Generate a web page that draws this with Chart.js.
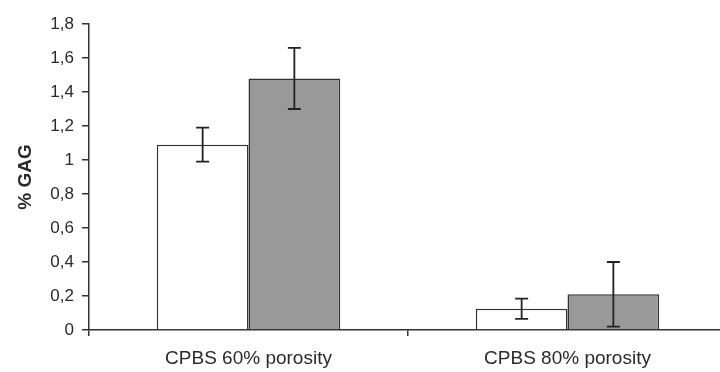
<!DOCTYPE html>
<html>
<head>
<meta charset="utf-8">
<script src="https://cdn.jsdelivr.net/npm/chart.js@4"></script>
<style>
  html, body { margin: 0; padding: 0; background: #fff; overflow: hidden; }
  #wrap { width: 727px; height: 372px; }
</style>
</head>
<body>
<div id="wrap"><canvas id="grafico"></canvas></div>
<script>
// datos
var categorias = ['CPBS 60% porosity', 'CPBS 80% porosity'];
var serieBlanca = [1.09, 0.125];
var errorBlanca = [0.10, 0.06];
var serieGris = [1.48, 0.21];
var errorGris = [0.18, 0.19];
var marcasY = [0, 0.2, 0.4, 0.6, 0.8, 1, 1.2, 1.4, 1.6, 1.8];

// barras de error dibujadas con la escala del grafico
var barrasError = {
    id: 'barrasError',
    afterDatasetsDraw: function (chart) {
        var ctx = chart.ctx;
        var escalaY = chart.scales.y;
        chart.data.datasets.forEach(function (ds, i) {
            var meta = chart.getDatasetMeta(i);
            meta.data.forEach(function (barra, j) {
                var v = ds.data[j], e = ds.errores[j];
                var arriba = escalaY.getPixelForValue(v + e);
                var abajo = escalaY.getPixelForValue(v - e);
                ctx.save();
                ctx.strokeStyle = '#222';
                ctx.lineWidth = 1.8;
                ctx.beginPath();
                ctx.moveTo(barra.x, arriba); ctx.lineTo(barra.x, abajo);
                ctx.moveTo(barra.x - 6.5, arriba); ctx.lineTo(barra.x + 6.5, arriba);
                ctx.moveTo(barra.x - 6.5, abajo); ctx.lineTo(barra.x + 6.5, abajo);
                ctx.stroke();
                ctx.restore();
            });
        });
    }
};

var ctx = document.getElementById('grafico');
new Chart(ctx, {
    type: 'bar',
    data: {
        labels: categorias,
        datasets: [{
            label: 'blanco',
            data: serieBlanca,
            errores: errorBlanca,
            backgroundColor: '#ffffff',
            borderColor: '#333333',
            borderWidth: 1.5
        }, {
            label: 'gris',
            data: serieGris,
            errores: errorGris,
            backgroundColor: '#999999',
            borderColor: '#333333',
            borderWidth: 1.5
        }]
    },
    options: {
        responsive: true,
        maintainAspectRatio: false,
        animation: false,
        categoryPercentage: 0.575,
        barPercentage: 1,
        layout: { padding: { top: 24, right: 0, left: 8, bottom: 0 } },
        plugins: {
            legend: { display: false },
            tooltip: { enabled: false }
        },
        scales: {
            x: {
                offset: true,
                grid: { offset: true, drawOnChartArea: false, tickLength: 6, color: '#333', lineWidth: 1.5 },
                border: { color: '#333', width: 1.5 },
                ticks: { color: '#2a2a2a', font: { family: 'Liberation Sans', size: 19 }, padding: 11 },
                afterFit: function (s) { s.height = 42; }
            },
            y: {
                min: 0,
                max: 1.8,
                afterBuildTicks: function (s) { s.ticks = marcasY.map(function (v) { return { value: v }; }); },
                grid: { drawOnChartArea: false, tickLength: 7, color: '#333', lineWidth: 1.5 },
                border: { color: '#333', width: 1.5 },
                ticks: {
                    color: '#2a2a2a',
                    font: { family: 'Liberation Sans', size: 17 },
                    padding: 8,
                    callback: function (v) { return String(Math.round(v * 10) / 10).replace('.', ','); }
                },
                title: {
                    display: true,
                    text: '% GAG',
                    color: '#2a2a2a',
                    font: { family: 'Liberation Sans', size: 19, weight: 'bold' },
                    padding: 6
                },
                afterFit: function (s) { s.width = 81; }
            }
        }
    },
    plugins: [barrasError]
});
</script>
</body>
</html>
